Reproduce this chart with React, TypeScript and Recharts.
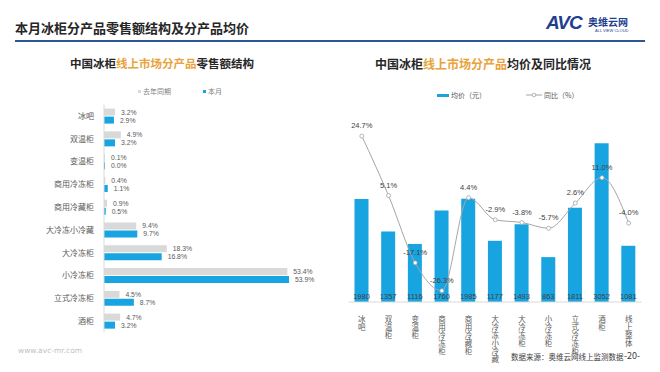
import React from 'react';
import {
  BarChart,
  Bar,
  ComposedChart,
  Line,
  XAxis,
  YAxis,
  LabelList,
} from 'recharts';

document.body.style.margin = '0';

const shareCats = ['冰吧', '双温柜', '变温柜', '商用冷冻柜', '商用冷藏柜', '大冷冻小冷藏', '大冷冻柜', '小冷冻柜', '立式冷冻柜', '酒柜'];
const shareLastYear = [3.2, 4.9, 0.1, 0.4, 0.9, 9.4, 18.3, 53.4, 4.5, 4.7];
const shareThisMonth = [2.9, 3.2, 0.0, 1.1, 0.5, 9.7, 16.8, 53.9, 8.7, 3.2];

const priceCats = ['冰吧', '双温柜', '变温柜', '商用冷冻柜', '商用冷藏柜', '大冷冻小冷藏', '大冷冻柜', '小冷冻柜', '立式冷冻柜', '酒柜', '线上整体'];
const avgPrice = [1980, 1357, 1116, 1760, 1985, 1177, 1493, 863, 1811, 3052, 1081];
const yoy = [24.7, 5.1, -17.1, -26.3, 4.4, -2.9, -3.8, -5.7, 2.6, 11.0, -4.0];

const BLUE = '#18a4e0';
const GRAY = '#d9d9d9';
const FONT = '"Noto Sans CJK SC", "Noto Sans", sans-serif';
const NUM_FONT = '"Liberation Sans", Arial, sans-serif';

const shareData = shareCats.map((name, i) => ({
  name,
  last: shareLastYear[i],
  cur: shareThisMonth[i],
}));

const priceData = priceCats.map((name, i) => ({
  name,
  price: avgPrice[i],
  yoy: yoy[i],
}));

// category names are written top to bottom, one character under another
const VerticalTick = (props: any) => {
  const { x, y, payload } = props;
  return (
    <text
      x={x}
      y={y + 5}
      fontSize={7.5}
      fill="#595959"
      fontFamily={FONT}
      style={{ writingMode: 'vertical-rl', letterSpacing: 0.6 }}
    >
      {payload.value}
    </text>
  );
};

const pct = (v: any) => `${Number(v).toFixed(1)}%`;

export default function App() {
  return (
    <div
      style={{
        position: 'relative',
        width: 660,
        height: 372,
        background: '#fff',
        fontFamily: FONT,
        overflow: 'hidden',
      }}
    >
      <div style={{ position: 'absolute', left: 15, top: 18, fontSize: 13, fontWeight: 700, color: '#262626' }}>
        本月冰柜分产品零售额结构及分产品均价
      </div>
      <div style={{ position: 'absolute', left: 546, top: 12, fontSize: 19, fontWeight: 900, fontStyle: 'italic', color: '#1f3f8f', fontFamily: '"Liberation Sans", sans-serif', letterSpacing: -1 }}>
        AVC
      </div>
      <div style={{ position: 'absolute', left: 588, top: 14, fontSize: 10, fontWeight: 700, color: '#1f3f8f' }}>
        奥维云网
      </div>
      <div style={{ position: 'absolute', left: 595, top: 28, fontSize: 4, color: '#1f3f8f', fontFamily: '"Liberation Sans", sans-serif' }}>
        ALL VIEW CLOUD
      </div>
      <div style={{ position: 'absolute', left: 15, top: 40, width: 630, height: 2, background: '#2e5597' }} />

      <div style={{ position: 'absolute', left: 70, top: 55, fontSize: 11.5, fontWeight: 700, color: '#262626' }}>
        中国冰柜<span style={{ color: '#e8a33c' }}>线上市场分产品</span>零售额结构
      </div>
      <div style={{ position: 'absolute', left: 375, top: 55, fontSize: 12, fontWeight: 700, color: '#262626' }}>
        中国冰柜<span style={{ color: '#e8a33c' }}>线上市场分产品</span>均价及同比情况
      </div>

      {/* left legend */}
      <div style={{ position: 'absolute', left: 138, top: 86, fontSize: 7, color: '#7f7f7f', display: 'flex', alignItems: 'center' }}>
        <span style={{ width: 3, height: 3, background: GRAY, marginRight: 2 }} />
        去年同期
        <span style={{ width: 3, height: 3, background: BLUE, marginLeft: 32, marginRight: 2 }} />
        本月
      </div>

      {/* right legend */}
      <div style={{ position: 'absolute', left: 437, top: 90, fontSize: 7, color: '#595959', display: 'flex', alignItems: 'center' }}>
        <span style={{ width: 12, height: 3, background: BLUE, marginRight: 2 }} />
        均价（元）
        <svg width={16} height={6} style={{ marginLeft: 40, marginRight: 2 }}>
          <line x1={0} y1={3} x2={16} y2={3} stroke="#a6a6a6" strokeWidth={1} />
          <circle cx={8} cy={3} r={1.8} fill="#fff" stroke="#a6a6a6" strokeWidth={0.8} />
        </svg>
        同比（%）
      </div>

      <div style={{ position: 'absolute', left: 0, top: 100 }}>
        <BarChart
          width={330}
          height={240}
          data={shareData}
          layout="vertical"
          margin={{ top: 4.6, right: 20, bottom: 7.6, left: 0 }}
          barSize={7}
          barGap={1}
        >
          <XAxis type="number" domain={[0, 60]} hide />
          <YAxis
            type="category"
            dataKey="name"
            width={104}
            axisLine={{ stroke: GRAY }}
            tickLine={false}
            tick={{ fontSize: 8, fill: '#595959', fontFamily: FONT }}
            tickMargin={4}
          />
          <Bar dataKey="last" fill={GRAY} minPointSize={1} isAnimationActive={false}>
            <LabelList dataKey="last" position="right" formatter={pct} fontSize={6.8} fill="#595959" offset={6} fontFamily={NUM_FONT} />
          </Bar>
          <Bar dataKey="cur" fill={BLUE} minPointSize={1} isAnimationActive={false}>
            <LabelList dataKey="cur" position="right" formatter={pct} fontSize={6.8} fill="#595959" offset={6} fontFamily={NUM_FONT} />
          </Bar>
        </BarChart>
      </div>

      <div style={{ position: 'absolute', left: 340, top: 100 }}>
        <ComposedChart
          width={310}
          height={270}
          data={priceData}
          margin={{ top: 20, right: 8, bottom: 10, left: 8.5 }}
        >
          <XAxis
            dataKey="name"
            axisLine={{ stroke: GRAY }}
            tickLine={false}
            interval={0}
            height={58}
            tick={<VerticalTick />}
          />
          <YAxis yAxisId="p" domain={[0, 3500]} hide />
          <YAxis yAxisId="y" orientation="right" domain={[-30, 30]} hide />
          <Bar yAxisId="p" dataKey="price" fill={BLUE} barSize={14} isAnimationActive={false}>
            <LabelList dataKey="price" position="insideBottom" fontSize={7.5} fill="#404040" offset={3} fontFamily={NUM_FONT} />
          </Bar>
          <Line
            yAxisId="y"
            dataKey="yoy"
            type="monotone"
            stroke="#a6a6a6"
            strokeWidth={1}
            dot={{ r: 2, fill: '#fff', stroke: '#a6a6a6', strokeWidth: 0.8 }}
            isAnimationActive={false}
          >
            <LabelList dataKey="yoy" position="top" formatter={pct} fontSize={7.5} fill="#404040" offset={8} fontFamily={NUM_FONT} />
          </Line>
        </ComposedChart>
      </div>

      <div style={{ position: 'absolute', left: 18, top: 346, fontSize: 7.5, color: '#bfbfbf', fontFamily: '"DejaVu Sans", sans-serif' }}>
        www.avc-mr.com
      </div>
      <div style={{ position: 'absolute', left: 511, top: 351, fontSize: 7.5, color: '#404040' }}>
        数据来源：奥维云网线上监测数据
      </div>
      <div style={{ position: 'absolute', left: 624, top: 349, fontSize: 9, color: '#404040' }}>
        -20-
      </div>
    </div>
  );
}
